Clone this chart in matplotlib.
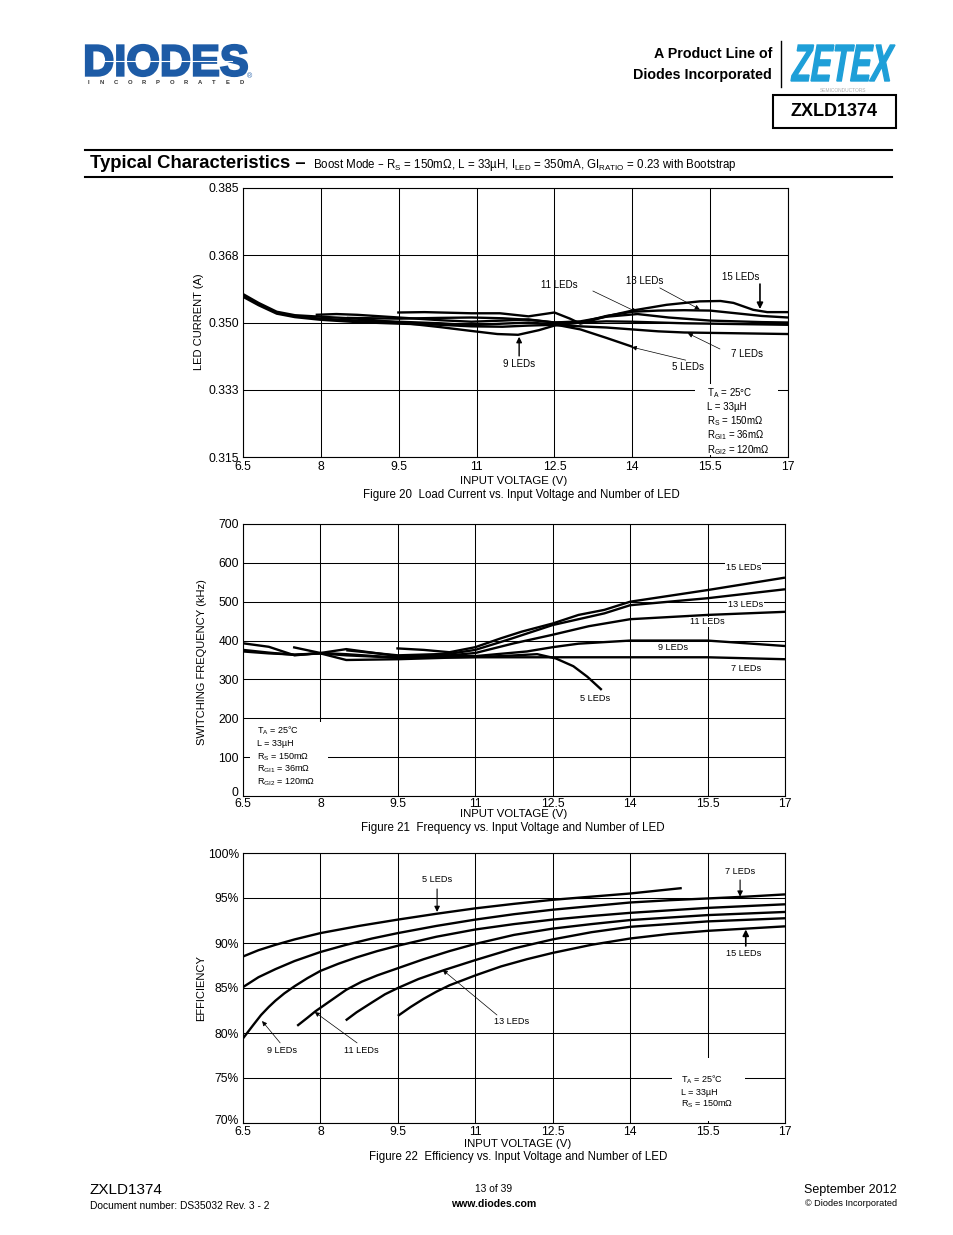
import matplotlib
import matplotlib.pyplot as plt
from matplotlib.textpath import TextPath
from matplotlib.patches import PathPatch, Rectangle
from matplotlib.font_manager import FontProperties
from matplotlib.transforms import Affine2D, ScaledTranslation

matplotlib.use('Agg')

plt.rcParams['font.family'] = ['Liberation Sans', 'DejaVu Sans']
plt.rcParams['mathtext.default'] = 'regular'

# shared x axis
v_ticks = [6.5, 8, 9.5, 11, 12.5, 14, 15.5, 17]
v_labels = ['6.5', '8', '9.5', '11', '12.5', '14', '15.5', '17']

# Figure 20 - load current (A)
i_ticks = [0.315, 0.3325, 0.35, 0.3675, 0.385]
i_labels = ['0.315', '0.333', '0.350', '0.368', '0.385']
i5_v = [6.5, 6.8, 7.15, 7.5, 8, 8.7, 9.5, 10.3, 10.9, 11.5, 12, 12.5, 13, 13.5, 14]
i5 = [0.3570, 0.3548, 0.3526, 0.3516, 0.3510, 0.3505, 0.3502, 0.3498, 0.3493, 0.3497,
      0.3500, 0.3495, 0.3482, 0.3460, 0.3437]
i7_v = [6.5, 6.8, 7.15, 7.5, 8, 8.7, 9.5, 10.3, 10.9, 11.5, 12, 12.5, 13, 13.5, 14, 14.5,
        15, 15.5, 16, 17]
i7 = [0.3567, 0.3545, 0.3523, 0.3514, 0.3507, 0.3501, 0.3497, 0.3494, 0.3490, 0.3489,
      0.3492, 0.3494, 0.3490, 0.3487, 0.3482, 0.3477, 0.3474, 0.3473, 0.3472, 0.3470]
i9_v = [6.5, 6.8, 7.15, 7.5, 8, 8.7, 9.5, 10.3, 10.9, 11.4, 11.8, 12.2, 12.5, 13, 13.5, 14,
        15, 16, 17]
i9 = [0.3574, 0.3551, 0.3528, 0.3519, 0.3515, 0.3510, 0.3500, 0.3488, 0.3478, 0.3470,
      0.3468, 0.3480, 0.3492, 0.3500, 0.3503, 0.3502, 0.3498, 0.3496, 0.3494]
i11_v = [7.9, 8.3, 8.7, 9.5, 10.3, 10.9, 11.5, 12, 12.5, 13, 13.5, 14.1, 14.7, 15.5, 16.5, 17]
i11 = [0.3520, 0.3522, 0.3520, 0.3513, 0.3506, 0.3502, 0.3505, 0.3508, 0.3500, 0.3503,
       0.3515, 0.3522, 0.3513, 0.3505, 0.3501, 0.3500]
i13_v = [8.5, 9.5, 10.3, 10.9, 11.5, 12, 12.5, 13, 13.5, 14, 14.5, 15, 15.5, 16, 16.5, 17]
i13 = [0.3512, 0.3510, 0.3512, 0.3513, 0.3511, 0.3507, 0.3500, 0.3500, 0.3517, 0.3528,
       0.3531, 0.3532, 0.3531, 0.3524, 0.3517, 0.3513]
i15_v = [9.47, 10, 10.9, 11.45, 12, 12.5, 12.8, 13, 13.5, 14, 14.66, 15.3, 15.7, 15.95,
         16.33, 16.6, 17]
i15 = [0.3526, 0.3527, 0.3524, 0.3524, 0.3516, 0.3526, 0.3510, 0.3497, 0.3516, 0.3531,
       0.3546, 0.3555, 0.3556, 0.3551, 0.3533, 0.3527, 0.3527]

# Figure 21 - switching frequency (kHz)
f_ticks = [0, 100, 200, 300, 400, 500, 600, 700]
f_labels = ['0', '100', '200', '300', '400', '500', '600', '700']
f5_v = [6.5, 7.0, 7.5, 8.0, 8.5, 9.5, 10.5, 11, 11.5, 12.2, 12.56, 12.9, 13.17, 13.45]
f5 = [372, 367, 364, 367, 362, 356, 357, 358, 360, 365, 354, 334, 307, 273]
f7_v = [6.5, 7, 7.5, 8, 8.5, 9.5, 10.5, 11, 12.5, 14, 15.5, 17]
f7 = [376, 369, 363, 367, 350, 352, 356, 357, 357, 357, 357, 352]
f9_v = [6.5, 7, 7.5, 8, 8.5, 9.5, 10.5, 11, 12, 12.5, 13, 14, 15.5, 17]
f9 = [393, 384, 362, 368, 378, 360, 360, 360, 372, 383, 392, 400, 400, 386]
f11_v = [7.47, 8, 8.5, 9.5, 10.5, 11, 11.75, 12.5, 13.2, 14, 15.5, 17]
f11 = [383, 368, 365, 356, 362, 368, 393, 415, 437, 455, 466, 474]
f13_v = [8.5, 9.5, 10.5, 11, 11.7, 12.5, 13.5, 14, 15.5, 17]
f13 = [375, 362, 366, 376, 405, 440, 470, 491, 509, 532]
f15_v = [9.47, 10, 10.5, 11, 11.5, 11.9, 12.5, 13, 13.5, 14, 15.5, 17]
f15 = [380, 376, 370, 383, 406, 423, 444, 466, 479, 500, 530, 562]

# Figure 22 - efficiency (%)
e_ticks = [70, 75, 80, 85, 90, 95, 100]
e_labels = ['70%', '75%', '80%', '85%', '90%', '95%', '100%']
e5_v = [6.5, 6.8, 7.13, 7.5, 8, 8.75, 9.5, 10.25, 11, 11.75, 12.5, 13.25, 14, 15.0]
e5 = [88.5, 89.2, 89.8, 90.4, 91.1, 91.9, 92.6, 93.25, 93.85, 94.35, 94.8, 95.15, 95.5, 96.1]
e7_v = [6.5, 6.8, 7.13, 7.5, 8, 8.5, 9, 9.5, 10.25, 11, 11.75, 12.5, 13.25, 14, 14.75,
        15.5, 16.25, 17]
e7 = [85.1, 86.2, 87.1, 88.0, 89.0, 89.8, 90.5, 91.1, 91.9, 92.6, 93.2, 93.7, 94.1, 94.5,
      94.75, 94.95, 95.15, 95.4]
e9_v = [6.5, 6.7, 6.85, 7.0, 7.13, 7.3, 7.5, 7.75, 8.0, 8.35, 8.7, 9.1, 9.5, 10.25, 11,
        11.75, 12.5, 13.25, 14, 15.5, 17]
e9 = [79.4, 80.9, 82.0, 82.9, 83.6, 84.4, 85.2, 86.1, 86.9, 87.7, 88.4, 89.1, 89.7, 90.7,
      91.5, 92.1, 92.6, 93.0, 93.35, 93.9, 94.3]
e11_v = [7.55, 7.75, 7.9, 8.1, 8.3, 8.5, 8.8, 9.1, 9.5, 10, 10.5, 11, 11.75, 12.5, 13.25,
         14, 15.5, 17]
e11 = [80.8, 81.7, 82.4, 83.2, 84.0, 84.8, 85.7, 86.4, 87.2, 88.2, 89.1, 89.9, 90.9, 91.6,
       92.1, 92.55, 93.1, 93.45]
e13_v = [8.49, 8.7, 9.0, 9.25, 9.5, 9.9, 10.4, 11, 11.75, 12.5, 13.25, 14, 15.5, 17]
e13 = [81.4, 82.3, 83.4, 84.3, 85.0, 86.0, 87.0, 88.1, 89.4, 90.4, 91.2, 91.8, 92.4, 92.75]
e15_v = [9.5, 9.75, 10, 10.25, 10.5, 11, 11.5, 12, 12.5, 13.25, 14, 14.75, 15.5, 17]
e15 = [81.9, 82.9, 83.8, 84.6, 85.3, 86.4, 87.4, 88.2, 88.9, 89.8, 90.5, 91.0, 91.35, 91.85]

cond_full = ['T$_{A}$ = 25°C', 'L = 33µH', 'R$_{S}$ = 150mΩ', 'R$_{GI1}$ = 36mΩ',
             'R$_{GI2}$ = 120mΩ']

fig = plt.figure(figsize=(9.54, 12.35), dpi=100)

# page overlay in pixel coordinates (y down)
page = fig.add_axes([0, 0, 1, 1])
page.set_xlim(0, 954)
page.set_ylim(1235, 0)
page.axis('off')


def fit_text(s, box, color, skew=0, lw=0.4, **font):
    tp = TextPath((0, 0), s, size=1, prop=FontProperties(**font))
    path = Affine2D().skew_deg(skew, 0).transform_path(tp)
    bb = path.get_extents()
    x0, y0, x1, y1 = box
    tr = (Affine2D().translate(-bb.x0, -bb.y0)
          .scale((x1 - x0) / bb.width, -(y1 - y0) / bb.height).translate(x0, y1))
    page.add_patch(PathPatch(tr.transform_path(path), fc=color, ec=color, lw=lw))


# header
fit_text('DIODES', (86, 45, 247, 76), '#1d5ba6', lw=1.6, family='Liberation Sans',
         weight='bold')
page.plot([96, 232], [61, 61], color='white', lw=0.8)
for k, ch in enumerate('INCORPORATED'):
    page.text(88 + k * 14, 83, ch, fontsize=4.2, weight='bold', color='#333333',
              ha='center', va='center')
page.text(250, 77, '®', fontsize=5, color='#1d5ba6', ha='center', va='center')

page.text(772, 54, 'A Product Line of', fontsize=10.3, weight='bold', ha='right', va='center')
page.text(772, 75, 'Diodes Incorporated', fontsize=10.3, weight='bold', ha='right', va='center')
page.plot([781, 781], [41, 87], color='k', lw=1)
fit_text('ZETEX', (791, 45, 895, 81), '#1e9fd8', skew=16, lw=1.0, family='Liberation Sans',
         weight='bold')
page.text(843, 91, 'SEMICONDUCTORS', fontsize=3.5, color='#b0b0b0', ha='center', va='center')
page.add_patch(Rectangle((773, 95), 123, 33, fill=False, ec='k', lw=1.5))
page.text(834.5, 112, 'ZXLD1374', fontsize=13, weight='bold', ha='center', va='center')

page.plot([85, 892], [150, 150], color='k', lw=1.5)
page.plot([85, 892], [177, 177], color='k', lw=1.5)
title = page.text(90, 164, 'Typical Characteristics –', fontsize=13.3, weight='bold',
                  ha='left', va='center')
page.annotate('Boost Mode – R$_{S}$ = 150mΩ, L = 33µH, I$_{LED}$ = 350mA, '
              'GI$_{RATIO}$ = 0.23 with Bootstrap',
              xy=(1, 0.5), xycoords=title, xytext=(5, -1), textcoords='offset points',
              fontsize=8.3, ha='left', va='center')

# footer
page.text(90, 1190, 'ZXLD1374', fontsize=11, ha='left', va='center')
page.text(90, 1206, 'Document number: DS35032 Rev. 3 - 2', fontsize=7.4, ha='left', va='center')
page.text(494, 1189, '13 of 39', fontsize=7.4, ha='center', va='center')
page.text(494, 1204, 'www.diodes.com', fontsize=7.6, weight='bold', ha='center', va='center')
page.text(897, 1190, 'September 2012', fontsize=9, ha='right', va='center')
page.text(897, 1204, '© Diodes Incorporated', fontsize=6.6, ha='right', va='center')


def make_axes(rect_px, yticks, ylabels, xpad, lift_bottom=0):
    l, t, r, b = rect_px
    ax = fig.add_axes([l / 954, 1 - b / 1235, (r - l) / 954, (b - t) / 1235])
    ax.set_xlim(6.5, 17)
    ax.set_ylim(yticks[0], yticks[-1])
    ax.set_xticks(v_ticks, v_labels)
    ax.set_yticks(yticks, ylabels)
    ax.tick_params(axis='x', length=0, labelsize=8.7, pad=xpad)
    ax.tick_params(axis='y', length=0, labelsize=8.7, pad=3)
    ax.grid(True, color='k', lw=0.75)
    ax.set_axisbelow(True)
    for s in ax.spines.values():
        s.set_linewidth(0.8)
    if lift_bottom:
        lab = ax.get_yticklabels()[0]
        lab.set_transform(lab.get_transform()
                          + ScaledTranslation(0, lift_bottom / 100, fig.dpi_scale_trans))
    return ax


def curve(ax, x, y):
    ax.plot(x, y, color='k', lw=1.7, solid_joinstyle='round', solid_capstyle='butt', zorder=3)


def arrow(ax, tail, head, lw=0.5, ms=7):
    ax.annotate('', xy=head, xytext=tail,
                arrowprops=dict(arrowstyle='-|>', color='k', lw=lw, mutation_scale=ms,
                                shrinkA=0, shrinkB=0), zorder=4)


def label(ax, x, y, s, fs=6.6, bg=False):
    kw = dict(boxstyle='square,pad=0.1', fc='white', ec='none') if bg else None
    ax.text(x, y, s, fontsize=fs, ha='center', va='center', bbox=kw, zorder=5)


# ---------- Figure 20 ----------
ax1 = make_axes((243, 188, 788, 457), i_ticks, i_labels, 3)
for x, y in [(i5_v, i5), (i7_v, i7), (i9_v, i9), (i11_v, i11), (i13_v, i13), (i15_v, i15)]:
    curve(ax1, x, y)
label(ax1, 16.09, 0.3618, '15 LEDs', 7)
arrow(ax1, (16.46, 0.3600), (16.46, 0.3535), lw=1.2, ms=9)
label(ax1, 14.24, 0.3608, '13 LEDs', 7)
arrow(ax1, (14.53, 0.3590), (15.30, 0.3534))
label(ax1, 12.59, 0.3598, '11 LEDs', 7)
arrow(ax1, (13.24, 0.3582), (14.09, 0.3527))
label(ax1, 11.82, 0.3392, '9 LEDs', 7)
arrow(ax1, (11.82, 0.3413), (11.82, 0.3463), lw=1.0, ms=8)
label(ax1, 15.07, 0.3384, '5 LEDs', 7)
arrow(ax1, (15.03, 0.3402), (13.99, 0.3436))
label(ax1, 16.21, 0.3418, '7 LEDs', 7)
arrow(ax1, (15.69, 0.3431), (15.07, 0.3472))
ax1.add_patch(Rectangle((15.21, 0.3155), 1.6, 0.0185, fc='white', ec='none', zorder=1))
for k, s in enumerate(cond_full):
    ax1.text(15.44, 0.3317 - k * 0.0037, s, fontsize=7, ha='left', va='center', zorder=5)
page.text(199, 322, 'LED CURRENT (A)', fontsize=8, rotation=90, ha='center', va='center')
page.text(514, 481, 'INPUT VOLTAGE (V)', fontsize=8.2, ha='center', va='center')
page.text(521, 495, 'Figure 20  Load Current vs. Input Voltage and Number of LED',
          fontsize=8.3, ha='center', va='center')

# ---------- Figure 21 ----------
ax2 = make_axes((243, 524, 785, 796), f_ticks, f_labels, 1.5, lift_bottom=4)
for x, y in [(f5_v, f5), (f7_v, f7), (f9_v, f9), (f11_v, f11), (f13_v, f13), (f15_v, f15)]:
    curve(ax2, x, y)
label(ax2, 16.19, 587, '15 LEDs', bg=True)
label(ax2, 16.23, 494, '13 LEDs', bg=True)
label(ax2, 15.49, 448, '11 LEDs', bg=True)
label(ax2, 14.83, 381, '9 LEDs', bg=True)
label(ax2, 16.24, 327, '7 LEDs', bg=True)
label(ax2, 13.32, 250, '5 LEDs', bg=True)
ax2.add_patch(Rectangle((6.64, 0), 1.51, 190, fc='white', ec='none', zorder=1))
for k, s in enumerate(cond_full):
    ax2.text(6.77, 167 - k * 33, s, fontsize=6.5, ha='left', va='center', zorder=5)
page.text(202, 662, 'SWITCHING FREQUENCY (kHz)', fontsize=8, rotation=90, ha='center',
          va='center')
page.text(514, 814, 'INPUT VOLTAGE (V)', fontsize=8.2, ha='center', va='center')
page.text(513, 828, 'Figure 21  Frequency vs. Input Voltage and Number of LED',
          fontsize=8.3, ha='center', va='center')

# ---------- Figure 22 ----------
ax3 = make_axes((243, 853, 785, 1123), e_ticks, e_labels, 2, lift_bottom=4)
for x, y in [(e5_v, e5), (e7_v, e7), (e9_v, e9), (e11_v, e11), (e13_v, e13), (e15_v, e15)]:
    curve(ax3, x, y)
label(ax3, 10.26, 97.0, '5 LEDs')
arrow(ax3, (10.26, 96.0), (10.26, 93.45), lw=0.8, ms=8)
label(ax3, 16.13, 97.9, '7 LEDs')
arrow(ax3, (16.13, 97.0), (16.13, 95.15), lw=0.8, ms=8)
label(ax3, 16.19, 88.8, '15 LEDs')
arrow(ax3, (16.24, 89.67), (16.24, 91.5), lw=1.2, ms=9)
label(ax3, 11.71, 81.33, '13 LEDs')
arrow(ax3, (11.42, 82.0), (10.37, 87.0))
label(ax3, 7.26, 78.1, '9 LEDs')
arrow(ax3, (7.22, 78.9), (6.87, 81.33))
label(ax3, 8.79, 78.1, '11 LEDs')
arrow(ax3, (8.71, 78.9), (7.89, 82.33))
ax3.add_patch(Rectangle((14.81, 70.2), 1.42, 7.0, fc='white', ec='none', zorder=1))
for k, s in enumerate(cond_full[:3]):
    ax3.text(14.99, 74.78 - k * 1.35, s, fontsize=6.5, ha='left', va='center', zorder=5)
page.text(201, 988, 'EFFICIENCY', fontsize=8, rotation=90, ha='center', va='center')
page.text(518, 1144, 'INPUT VOLTAGE (V)', fontsize=8.2, ha='center', va='center')
page.text(518, 1157, 'Figure 22  Efficiency vs. Input Voltage and Number of LED',
          fontsize=8.3, ha='center', va='center')

fig.savefig('out.png', dpi=100)
plt.close(fig)
